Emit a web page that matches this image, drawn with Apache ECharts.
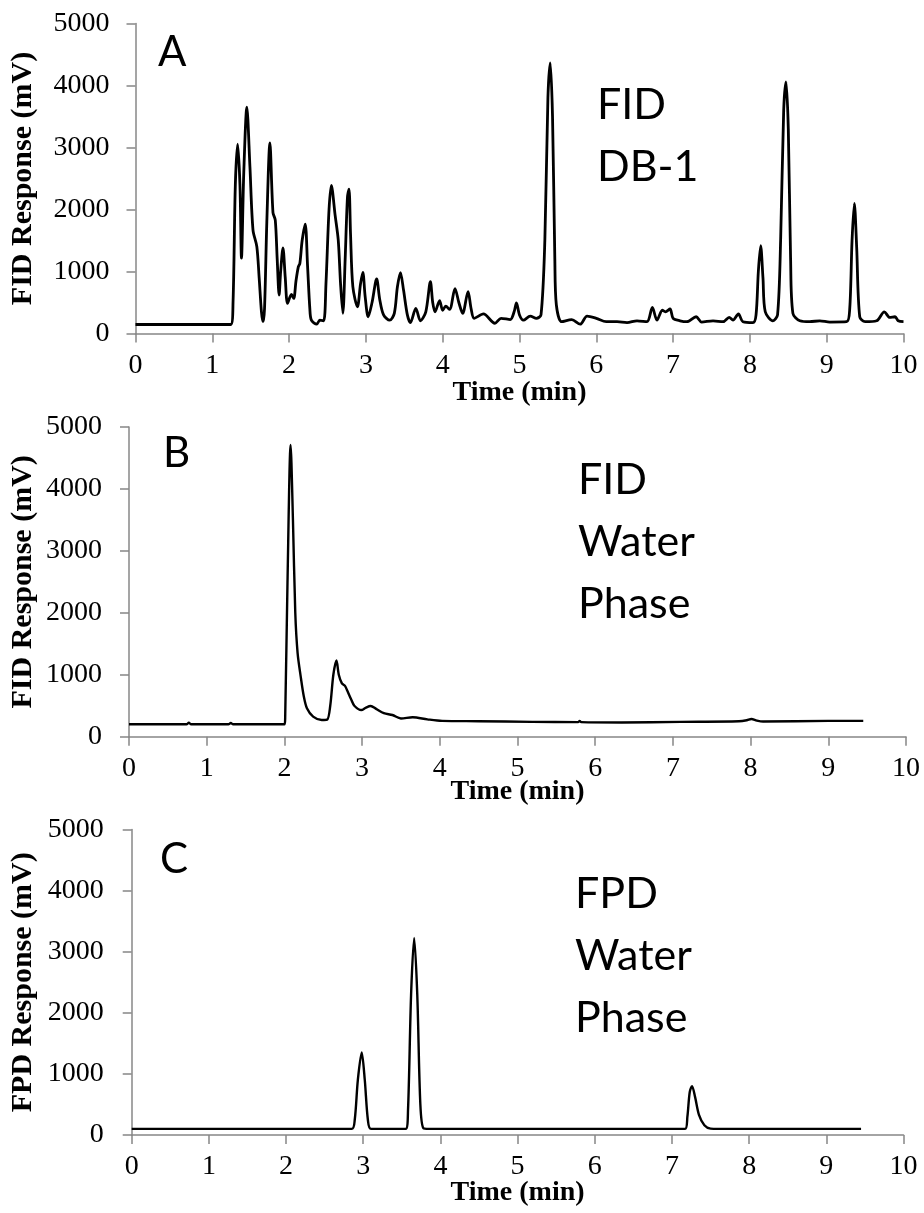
<!DOCTYPE html>
<html>
<head>
<meta charset="utf-8">
<script src="https://cdn.jsdelivr.net/npm/echarts@6/dist/echarts.min.js"></script>
<style>
html,body{margin:0;padding:0;background:#fff;}
#chart{width:924px;height:1213px;}
</style>
</head>
<body>
<div id="chart"></div>
<script>
// ---- Data ----
const xTicks = [0,1,2,3,4,5,6,7,8,9,10];
const yTicks = [0,1000,2000,3000,4000,5000];

// Panel A: FID, DB-1
const aTime = [0,1.24,1.27,1.30,1.33,1.36,1.38,1.41,1.45,1.49,1.53,1.58,1.61,1.64,1.66,1.68,1.71,1.75,1.79,1.82,1.845,1.87,1.89,1.92,1.95,1.98,2.03,2.06,2.09,2.12,2.14,2.17,2.21,2.24,2.27,2.29,2.36,2.40,2.45,2.48,2.52,2.55,2.60,2.64,2.67,2.70,2.73,2.76,2.78,2.80,2.83,2.89,2.93,2.96,2.99,3.03,3.08,3.14,3.18,3.23,3.31,3.37,3.41,3.45,3.49,3.54,3.58,3.65,3.71,3.78,3.84,3.87,3.90,3.96,4.00,4.04,4.09,4.16,4.21,4.26,4.33,4.37,4.41,4.53,4.68,4.76,4.88,4.93,4.96,5.00,5.05,5.14,5.22,5.28,5.33,5.37,5.40,5.43,5.46,5.48,5.55,5.68,5.79,5.88,6.00,6.13,6.27,6.40,6.53,6.66,6.73,6.79,6.86,6.90,6.96,7.00,7.09,7.18,7.30,7.37,7.52,7.65,7.73,7.78,7.85,7.91,8.04,8.08,8.11,8.14,8.17,8.20,8.30,8.36,8.40,8.44,8.47,8.50,8.53,8.56,8.65,8.78,8.91,9.04,9.26,9.30,9.33,9.36,9.39,9.43,9.50,9.65,9.75,9.82,9.89,9.93,10.0];
const aValue = [145,145,500,2400,3055,2400,1215,2600,3650,2690,1667,1400,900,350,190,400,1800,3075,1950,1830,1200,620,1000,1380,900,485,630,565,850,1075,1130,1500,1765,1100,400,215,150,215,205,800,2000,2390,1900,1505,800,325,1200,2200,2330,1600,755,430,800,985,600,270,500,880,550,300,215,325,750,980,700,300,175,405,205,350,835,500,350,530,375,440,390,725,500,325,675,400,245,315,165,245,225,350,495,300,215,280,245,300,1500,3800,4365,3500,1200,460,190,225,150,280,245,190,190,175,205,190,420,215,375,350,395,245,205,190,270,185,205,190,260,215,315,190,175,300,1000,1415,900,350,205,300,1500,3600,4060,3300,1200,325,205,190,205,185,190,400,1500,2100,1400,270,190,205,350,260,270,205,190];

// Panel B: FID, water phase
const bTime = [0,0.74,0.77,0.80,1.28,1.31,1.34,2.00,2.01,2.04,2.08,2.11,2.14,2.17,2.21,2.25,2.29,2.37,2.48,2.55,2.59,2.63,2.67,2.70,2.74,2.78,2.81,2.86,2.90,2.99,3.05,3.11,3.18,3.28,3.39,3.50,3.65,3.84,4.03,4.50,5.19,5.78,5.80,5.82,6.34,7.10,7.85,7.95,8.01,8.08,8.16,9.00,9.45];
const bValue = [200,200,225,200,200,220,200,200,300,2500,4710,3500,2000,1350,970,650,460,325,270,275,500,1000,1230,1000,860,820,740,600,500,430,470,495,450,380,350,295,315,280,255,250,240,235,255,235,230,240,250,265,285,260,245,255,255];

// Panel C: FPD, water phase
const cTime = [0,2.85,2.89,2.93,2.98,3.02,3.06,3.10,3.55,3.58,3.62,3.66,3.70,3.74,3.78,3.85,7.17,7.20,7.23,7.26,7.30,7.35,7.42,7.50,7.60,9.45];
const cValue = [100,100,250,900,1350,900,250,100,100,400,2300,3225,2300,500,110,100,100,300,700,800,620,330,160,105,100,100];

const panelLetters = ['A','B','C'];
const panelNotes = ['FID\nDB-1','FID\nWater\nPhase','FPD\nWater\nPhase'];
const yNames = ['FID Response (mV)','FID Response (mV)','FPD Response (mV)'];
const xName = 'Time (min)';

// ---- Layout ----
const grids = [
  {left:135.5, right:20.5, top:23.5, height:310},
  {left:129, right:18, top:427, height:309.7},
  {left:131.7, right:20.5, top:829.5, height:305.5}
];
const yLabelMargin = [26,27,28];
const yNameGap = [97,90.5,93];
const xNameGap = [45,41,44];
const lineW = [2.8,2.4,2.4];

const axisGray = '#878787';
const serif = '"Liberation Serif","Times New Roman",serif';

function pairs(t,v){ return t.map((x,i)=>[x,v[i]]); }
const seriesData = [pairs(aTime,aValue), pairs(bTime,bValue), pairs(cTime,cValue)];

const xAxes = [], yAxes = [], series = [];
for (let i=0;i<3;i++){
  xAxes.push({
    type:'value', gridIndex:i, min:xTicks[0], max:xTicks[xTicks.length-1], interval:1,
    name:xName, nameLocation:'middle', nameGap:xNameGap[i], nameMoveOverlap:false,
    nameTextStyle:{fontFamily:serif, fontWeight:'bold', fontSize:28, color:'#000'},
    axisLine:{show:true, onZero:false, lineStyle:{color:axisGray, width:1.5}},
    axisTick:{show:true, inside:false, length:9, lineStyle:{color:axisGray, width:1.5}},
    axisLabel:{fontFamily:serif, fontSize:28, color:'#000', margin:18, formatter:v=>String(v)},
    splitLine:{show:false}
  });
  yAxes.push({
    type:'value', gridIndex:i, min:yTicks[0], max:yTicks[yTicks.length-1], interval:1000,
    name:yNames[i], nameLocation:'middle', nameGap:yNameGap[i], nameRotate:90, nameMoveOverlap:false,
    nameTextStyle:{fontFamily:serif, fontWeight:'bold', fontSize:30, color:'#000'},
    axisLine:{show:true, lineStyle:{color:axisGray, width:1.5}},
    axisTick:{show:true, inside:false, length:9, lineStyle:{color:axisGray, width:1.5}},
    axisLabel:{fontFamily:serif, fontSize:28, color:'#000', margin:yLabelMargin[i], formatter:v=>String(v)},
    splitLine:{show:false}
  });
  series.push({
    type:'line', xAxisIndex:i, yAxisIndex:i, data:seriesData[i],
    showSymbol:false, symbol:'none', smooth:0.3,
    lineStyle:{color:'#000', width:lineW[i]}, silent:true
  });
}

const sans = 'Lato, "Open Sans", sans-serif';
const letterPos = [[158,31],[163,432],[160,838]];
const notePos = [[597,74],[578,449],[575,863]];
const graphics = [];
for (let i=0;i<3;i++){
  graphics.push({type:'text', left:letterPos[i][0], top:letterPos[i][1],
    style:{text:panelLetters[i], font:'42px '+sans, fill:'#000'}});
  graphics.push({type:'text', left:notePos[i][0], top:notePos[i][1],
    style:{text:panelNotes[i], font:'43px '+sans, fill:'#000', lineHeight:62}});
}

const chart = echarts.init(document.getElementById('chart'), null, {renderer:'canvas'});
chart.setOption({
  animation:false,
  backgroundColor:'#fff',
  grid:grids,
  xAxis:xAxes,
  yAxis:yAxes,
  series:series,
  graphic:graphics
});
</script>
</body>
</html>
